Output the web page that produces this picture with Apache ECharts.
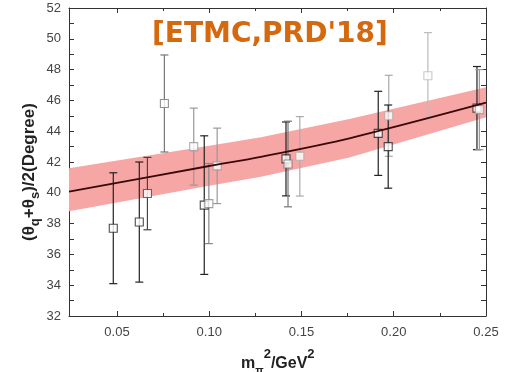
<!DOCTYPE html>
<html>
<head>
<meta charset="utf-8">
<script src="https://cdn.jsdelivr.net/npm/echarts@6/dist/echarts.min.js"></script>
<style>
html,body{margin:0;padding:0;background:#fff;}
#c{width:510px;height:372px;}
</style>
</head>
<body>
<div id="c"></div>
<script>
// ---- data ----
var pointX   = [0.048, 0.0621, 0.0665, 0.0757, 0.0916, 0.0973, 0.0998, 0.1043, 0.1416, 0.1427, 0.1491, 0.1916, 0.1973, 0.1970, 0.2185, 0.2451, 0.2464];
var pointY   = [37.7,  38.1,   39.95,  45.8,   43.0,   39.2,   39.3,   41.75,  42.2,   41.87,  42.37,  43.86,  45.0,   43.0,   47.6,   45.5,   45.4];
var pointErr = [3.6,   3.9,    2.35,   3.15,   2.5,    4.5,    2.6,    2.45,   2.4,    2.78,   2.58,   2.73,   2.63,   2.7,    2.8,    2.7,    2.6];

var bandX     = [0.024, 0.100, 0.128, 0.176, 0.250];
var bandUpper = [41.6,  43.05, 43.6,  44.8,  46.85];
var bandLower = [38.8,  40.45, 41.05, 42.3,  44.9];
var fitLine   = [40.07, 41.74, 42.34, 43.54, 45.85];

var xLabelTicks = [0.05, 0.10, 0.15, 0.20, 0.25];
var xMinorTicks = [0.075, 0.125, 0.175, 0.225];

// ---- styles ----
var pointShade = ['#222', '#222', '#444', '#777', '#999', '#222', '#888', '#999', '#222', '#777', '#aaa', '#222', '#aaa', '#222', '#bbb', '#222', '#999'];

var chart = echarts.init(document.getElementById('c'), null, {renderer: 'canvas'});

var points = pointX.map(function (x, i) { return [x, pointY[i], pointErr[i]]; });
var bandData = bandX.map(function (x, i) { return [x, bandUpper[i], bandLower[i]]; });
var lineData = bandX.map(function (x, i) { return [x, fitLine[i]]; });

var axisCol = '#333';
var lblCol = '#444';
var font = 'Liberation Sans, Arial, sans-serif';

function xAx(pos, ticks, len, showLine, showLabel) {
  return {
    type: 'value', position: pos, min: 0.024, max: 0.25,
    axisLine: {show: showLine, lineStyle: {color: axisCol, width: 1}},
    axisTick: {show: true, inside: true, length: len, customValues: ticks, lineStyle: {color: axisCol, width: 1}},
    axisLabel: showLabel ? {show: true, customValues: ticks, margin: 10, color: lblCol, fontSize: 13, fontFamily: font,
      formatter: function (v) { return v.toFixed(2); }} : {show: false},
    splitLine: {show: false}
  };
}
function yAx(pos, showLabel) {
  return {
    type: 'value', position: pos, min: 32, max: 52, interval: 2,
    axisLine: {show: true, lineStyle: {color: axisCol, width: 1}},
    axisTick: {show: true, inside: true, length: 5, lineStyle: {color: axisCol}},
    minorTick: {show: true, splitNumber: 2, length: 5, lineStyle: {color: axisCol}},
    axisLabel: {show: showLabel, margin: 8, color: lblCol, fontSize: 13, fontFamily: font},
    splitLine: {show: false}
  };
}

chart.setOption({
  animation: false,
  backgroundColor: '#fff',
  grid: {left: 69, right: 24, top: 8, bottom: 56},
  xAxis: [
    xAx('bottom', xLabelTicks, 5, true, true),
    xAx('bottom', xMinorTicks, 3, false, false),
    xAx('top', xLabelTicks, 5, true, false),
    xAx('top', xMinorTicks, 3, false, false)
  ],
  yAxis: [yAx('left', true), yAx('right', false)],
  graphic: [
    {type: 'text', left: 152, top: 21, z: 100, style: {
      text: "[ETMC,PRD'18]", fill: '#d4690f', font: 'bold 28px "DejaVu Sans", sans-serif'}},
    {type: 'text', x: 241, y: 350, style: {
      text: '{a|m}{sub|π}{sup|2}{a|/GeV}{sup|2}',
      rich: {
        a: {fontSize: 16, fontWeight: 'bold', fontFamily: font, fill: '#222', verticalAlign: 'bottom', lineHeight: 22},
        sub: {fontSize: 11, fontWeight: 'bold', fontFamily: font, fill: '#222', verticalAlign: 'bottom', lineHeight: 22, padding: [0, 0, -4, 0]},
        sup: {fontSize: 13, fontWeight: 'bold', fontFamily: font, fill: '#222', verticalAlign: 'top', lineHeight: 22, padding: [-2, 0, 0, 0]}
      }
    }},
    {type: 'text', x: 16, y: 241, rotation: Math.PI / 2, style: {
      text: '{a|(θ}{sub|q}{a|+θ}{sub|s}{a|)/2(Degree)}',
      rich: {
        a: {fontSize: 17, fontWeight: 'bold', fontFamily: font, fill: '#222', verticalAlign: 'bottom', lineHeight: 22},
        sub: {fontSize: 13, fontWeight: 'bold', fontFamily: font, fill: '#222', verticalAlign: 'bottom', lineHeight: 22, padding: [0, 0, -4, 0]}
      }
    }}
  ],
  series: [
    {
      type: 'custom', name: 'band', xAxisIndex: 0, yAxisIndex: 0, z: 1,
      data: bandData,
      encode: {x: 0, y: [1, 2]},
      renderItem: function (params, api) {
        if (params.dataIndex !== 0) return null;
        var pts = [];
        for (var i = 0; i < bandData.length; i++) pts.push(api.coord([bandData[i][0], bandData[i][1]]));
        for (var j = bandData.length - 1; j >= 0; j--) pts.push(api.coord([bandData[j][0], bandData[j][2]]));
        return {type: 'polygon', shape: {points: pts}, style: {fill: '#f7a6a6', stroke: null}};
      }
    },
    {
      type: 'custom', name: 'err', xAxisIndex: 0, yAxisIndex: 0, z: 3,
      data: points,
      encode: {x: 0, y: 1},
      renderItem: function (params, api) {
        var x = api.value(0), y = api.value(1), e = api.value(2);
        var t = api.coord([x, y + e]), b = api.coord([x, y - e]);
        var col = pointShade[params.dataIndex];
        var st = {stroke: col, lineWidth: 1.2};
        return {type: 'group', children: [
          {type: 'line', shape: {x1: t[0], y1: t[1], x2: b[0], y2: b[1]}, style: st},
          {type: 'line', shape: {x1: t[0] - 4, y1: t[1], x2: t[0] + 4, y2: t[1]}, style: st},
          {type: 'line', shape: {x1: b[0] - 4, y1: b[1], x2: b[0] + 4, y2: b[1]}, style: st}
        ]};
      }
    },
    {
      type: 'scatter', name: 'pts', xAxisIndex: 0, yAxisIndex: 0, z: 4,
      symbol: 'rect', symbolSize: 8,
      data: points.map(function (p, i) {
        return {value: [p[0], p[1]], itemStyle: {color: '#fff', borderColor: pointShade[i], borderWidth: 1.1}};
      })
    },
    {
      type: 'line', name: 'fit', xAxisIndex: 0, yAxisIndex: 0, z: 5,
      data: lineData, showSymbol: false, symbol: 'none', smooth: 0.3,
      lineStyle: {color: '#3a0808', width: 1.8}
    }
  ]
});
</script>
</body>
</html>
